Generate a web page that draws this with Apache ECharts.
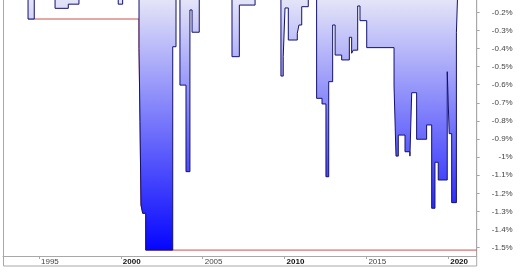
<!DOCTYPE html>
<html>
<head>
<meta charset="utf-8">
<script src="https://cdn.jsdelivr.net/npm/echarts@6/dist/echarts.min.js"></script>
<style>
html,body{margin:0;padding:0;background:#fff;}
#c{width:520px;height:272px;}
</style>
</head>
<body>
<div id="c"></div>
<script>
// Drawdown (%) step series: value holds from each year until the next one
var ddYears = [1992.80, 1994.33, 1994.71, 1995.98, 1996.79, 1997.44, 1999.84, 2000.11,
  2001.11, 2001.17, 2001.23, 2001.335, 2001.52, 2003.17, 2003.37, 2003.61, 2003.98, 2004.22, 2004.35, 2004.79,
  2006.79, 2007.24, 2008.20, 2009.78, 2009.92, 2010.03, 2010.23, 2010.78, 2010.88, 2011.05, 2011.45,
  2011.96, 2012.29, 2012.53, 2012.70, 2012.94, 2013.09, 2013.49, 2013.96, 2014.10, 2014.20, 2014.47, 2014.61,
  2015.02, 2016.69, 2016.81, 2016.95, 2017.36, 2017.66, 2017.77, 2018.07, 2018.68, 2018.99, 2019.19, 2019.39,
  2019.94, 2020.06, 2020.21, 2020.50, 2020.61, 2021.74];
var ddValues = [0, -0.237, 0, -0.178, -0.155, 0, -0.155, 0,
  -0.399, -0.804, -1.264, -1.31, -1.513, -0.390, 0, -0.602, -1.080, -0.187, -0.310, 0,
  -0.445, -0.160, 0, -0.552, -0.445, -0.176, -0.353, -0.316, -0.270, -0.169, 0,
  -0.675, -0.706, -1.108, -0.583, -0.270, -0.436, -0.463, -0.338, -0.426, -0.409, -0.165, -0.246,
  -0.395, -0.607, -0.994, -0.878, -0.970, -0.994, -0.644, -0.901, -0.822, -1.282, -1.028, -1.126,
  -0.528, -0.870, -1.251, -0.313, 0, 0];
// Maximum drawdown so far (%)
var mddYears = [1994.33, 2001.11, 2001.17, 2001.23, 2001.335, 2001.52, 2021.74];
var mddValues = [-0.237, -0.399, -0.804, -1.264, -1.31, -1.513, -1.513];
// Axis ticks
var xTicks = [1995, 2000, 2005, 2010, 2015, 2020];
var yTicks = [-1.5, -1.4, -1.3, -1.2, -1.1, -1.0, -0.9, -0.8, -0.7, -0.6, -0.5, -0.4, -0.3, -0.2];

function zip(a, b) { return a.map(function (v, i) { return [v, b[i]]; }); }

var chart = echarts.init(document.getElementById('c'), null, {renderer: 'canvas'});
chart.setOption({
  animation: false,
  backgroundColor: '#fff',
  grid: {left: 3, right: 43.3, top: 0, bottom: 16, containLabel: false},
  xAxis: {
    type: 'value', min: 1992.80, max: 2021.74,
    axisLine: {show: true, lineStyle: {color: '#a8a8a8', width: 1}},
    axisTick: {show: true, customValues: xTicks, length: 3, lineStyle: {color: '#a8a8a8'}},
    splitLine: {show: false},
    axisLabel: {
      customValues: xTicks, align: 'left', margin: 2, padding: [0, 0, 0, 2],
      fontFamily: 'Liberation Sans, Arial, sans-serif', fontSize: 8, color: '#444',
      formatter: function (v) { return v % 10 === 0 ? '{b|' + v + '}' : String(v); },
      rich: {b: {fontWeight: 'bold', fontSize: 8, color: '#111', fontFamily: 'Liberation Sans, Arial, sans-serif'}}
    }
  },
  yAxis: {
    type: 'value', position: 'right', min: -1.5457, max: -0.132,
    axisLine: {show: true, lineStyle: {color: '#a8a8a8', width: 1}},
    axisTick: {show: true, customValues: yTicks, length: 3, lineStyle: {color: '#a8a8a8'}},
    splitLine: {show: false},
    axisLabel: {
      customValues: yTicks, align: 'right', margin: 36,
      fontFamily: 'Liberation Sans, Arial, sans-serif', fontSize: 8, color: '#444',
      formatter: function (v) { return parseFloat(v.toFixed(1)) + '%'; }
    }
  },
  graphic: [{
    type: 'rect', silent: true, z: -1,
    shape: {x: 3.5, y: -5, width: 473.2, height: 271},
    style: {fill: 'none', stroke: '#a8a8a8', lineWidth: 1}
  }],
  series: [{
    type: 'line', step: 'end', z: 1, symbol: 'none', silent: true,
    data: zip(mddYears, mddValues),
    lineStyle: {color: '#c8504a', width: 1}
  }, {
    type: 'line', step: 'end', z: 2, symbol: 'none', silent: true,
    data: zip(ddYears, ddValues),
    lineStyle: {color: '#12126e', width: 1},
    areaStyle: {
      origin: 'end', opacity: 1,
      color: {type: 'linear', x: 0, y: 0, x2: 0, y2: 256, global: true,
        colorStops: [{offset: 0, color: 'rgb(228,228,248)'}, {offset: 1, color: 'rgb(0,0,255)'}]}
    }
  }]
});
</script>
</body>
</html>
